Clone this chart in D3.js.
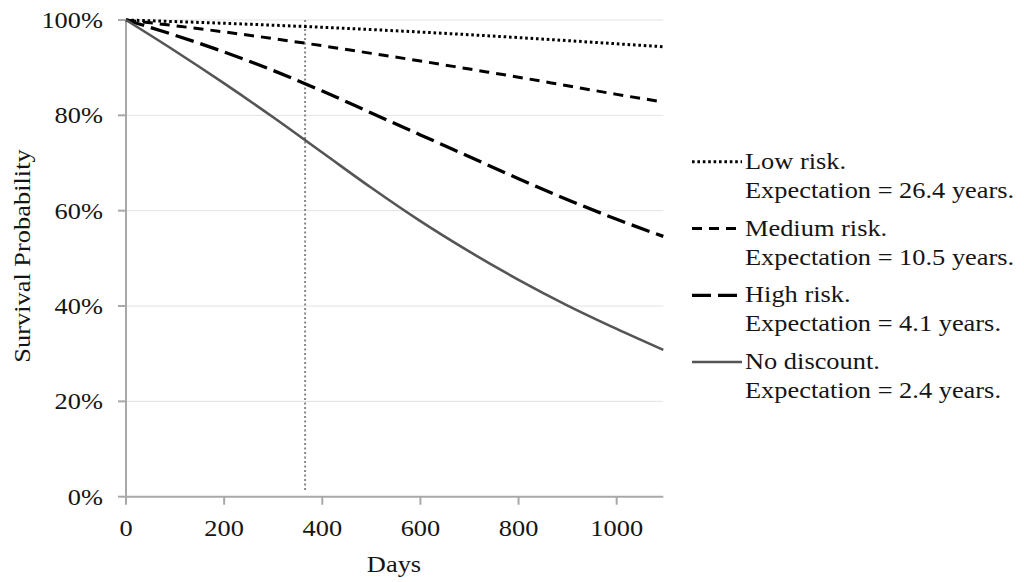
<!DOCTYPE html>
<html>
<head>
<meta charset="utf-8">
<script src="https://cdn.jsdelivr.net/npm/d3@7.9.0/dist/d3.min.js"></script>
<style>
  body { margin: 0; background: #fff; }
  svg { display: block; font-family: "Liberation Serif", "Times New Roman", serif; }
</style>
</head>
<body>
<svg id="chart" width="1024" height="582"></svg>
<script>
// days sampled along the curves
const days = [0, 100, 200, 300, 400, 500, 600, 700, 800, 900, 1000, 1095];

// survival probability (%)
const lowRisk    = [100, 99.67, 99.31, 98.91, 98.47, 97.99, 97.47, 96.91, 96.31, 95.67, 95.01, 94.4];
const mediumRisk = [100, 98.8, 97.5, 96.1, 94.6, 93.0, 91.4, 89.7, 88.0, 86.2, 84.4, 82.8];
const highRisk   = [100, 96.8, 93.3, 89.4, 85.1, 80.5, 75.9, 71.3, 66.7, 62.3, 58.2, 54.6];
const noDiscount = [100, 93.5, 86.7, 79.6, 72.2, 64.8, 57.8, 51.4, 45.5, 40.1, 35.2, 30.8];

const seriesNames = ['Low risk.', 'Medium risk.', 'High risk.', 'No discount.'];
const expectations = ['Expectation = 26.4 years.', 'Expectation = 10.5 years.',
                      'Expectation = 4.1 years.', 'Expectation = 2.4 years.'];

const xTicks = [0, 200, 400, 600, 800, 1000];
const yTicks = [0, 20, 40, 60, 80, 100];
const oneYear = 365;

const svg = d3.select('#chart');
const x = d3.scaleLinear().domain([0, 1095]).range([126, 663.3]);
const y = d3.scaleLinear().domain([0, 100]).range([496.7, 20]);

const styles = [
  { stroke: '#000', width: 3, dash: '2.6,2.8' },
  { stroke: '#000', width: 3, dash: '10,7' },
  { stroke: '#000', width: 3.3, dash: '19,7' },
  { stroke: '#555', width: 2.6, dash: null }
];
const allSeries = [lowRisk, mediumRisk, highRisk, noDiscount];

const sx = 1.1; // glyphs in the picture are a bit wider than Times
function label(g, px, py, txt, anchor, rot) {
  g.append('text')
    .attr('transform', `translate(${px},${py}) rotate(${rot || 0}) scale(${sx},1)`)
    .attr('text-anchor', anchor)
    .attr('dominant-baseline', 'central')
    .attr('font-size', 24)
    .attr('fill', '#151515')
    .text(txt);
}

// gridlines
svg.append('g').selectAll('line')
  .data(yTicks.filter(d => d > 0))
  .join('line')
  .attr('x1', x(0)).attr('x2', x(1095))
  .attr('y1', d => y(d)).attr('y2', d => y(d))
  .attr('stroke', '#e3e3e3').attr('stroke-width', 1);

// one-year marker
svg.append('line')
  .attr('x1', x(oneYear)).attr('x2', x(oneYear))
  .attr('y1', y(100)).attr('y2', y(1))
  .attr('stroke', '#888').attr('stroke-width', 2)
  .attr('stroke-dasharray', '2,2.5');

// axes
const axes = svg.append('g').attr('stroke', '#a8a8a8').attr('stroke-width', 2);
axes.append('line').attr('x1', x(0)).attr('x2', x(0)).attr('y1', y(100)).attr('y2', y(0));
axes.append('line').attr('x1', x(0)).attr('x2', x(1095)).attr('y1', y(0)).attr('y2', y(0));
axes.selectAll('.yt').data(yTicks).join('line').attr('class', 'yt')
  .attr('x1', x(0) - 8).attr('x2', x(0)).attr('y1', d => y(d)).attr('y2', d => y(d));
axes.selectAll('.xt').data(xTicks).join('line').attr('class', 'xt')
  .attr('x1', d => x(d)).attr('x2', d => x(d)).attr('y1', y(0)).attr('y2', y(0) + 8);

const labels = svg.append('g');
yTicks.forEach(d => label(labels, 103, y(d), d + '%', 'end'));
xTicks.forEach(d => label(labels, x(d), 528, String(d), 'middle'));
label(labels, 394, 564, 'Days', 'middle');
label(labels, 22, 256, 'Survival Probability', 'middle', -90);

// curves
const line = d3.line()
  .x((d, i) => x(days[i]))
  .y(d => y(d))
  .curve(d3.curveMonotoneX);

allSeries.forEach((s, i) => {
  svg.append('path')
    .datum(s)
    .attr('d', line)
    .attr('fill', 'none')
    .attr('stroke', styles[i].stroke)
    .attr('stroke-width', styles[i].width)
    .attr('stroke-dasharray', styles[i].dash);
});

// legend
const legend = svg.append('g');
const legendY = [161.7, 228.5, 295.3, 362];
seriesNames.forEach((name, i) => {
  legend.append('line')
    .attr('x1', 692).attr('x2', 742)
    .attr('y1', legendY[i]).attr('y2', legendY[i])
    .attr('stroke', styles[i].stroke)
    .attr('stroke-width', styles[i].width)
    .attr('stroke-dasharray', styles[i].dash);
  label(legend, 745, legendY[i] - 1, name, 'start');
  label(legend, 745, legendY[i] + 28, expectations[i], 'start');
});
</script>
</body>
</html>
